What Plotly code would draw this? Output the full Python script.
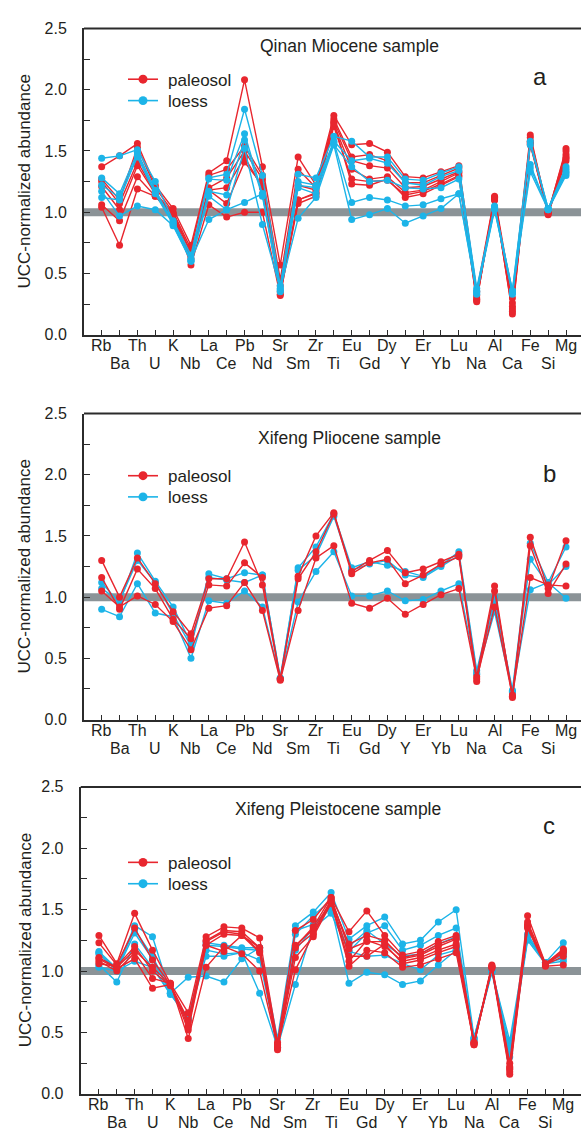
import plotly.graph_objects as go

# Element order along the x axis (UCC-normalized spider diagram)
ELEMENTS = ["Rb", "Ba", "Th", "U", "K", "Nb", "La", "Ce", "Pb", "Nd", "Sr", "Sm", "Zr", "Ti",
            "Eu", "Gd", "Dy", "Y", "Er", "Yb", "Lu", "Na", "Al", "Ca", "Fe", "Si", "Mg"]

Y_TICKS = [0, 0.25, 0.5, 0.75, 1.0, 1.25, 1.5, 1.75, 2.0, 2.25, 2.5]
Y_TICK_TEXT = ["0.0", "", "0.5", "", "1.0", "", "1.5", "", "2.0", "", "2.5"]

# ---- Qinan Miocene ----
QINAN_PALEOSOL = [
    [1.37, 1.46, 1.56, 1.22, 1.03, 0.73, 1.32, 1.42, 2.08, 1.37, 0.57, 1.45, 1.22, 1.79, 1.55, 1.56, 1.49, 1.29, 1.28, 1.33, 1.38, 0.35, 1.13, 0.30, 1.63, 0.99, 1.52],
    [1.27, 1.10, 1.53, 1.20, 1.00, 0.70, 1.30, 1.35, 1.54, 1.30, 0.45, 1.35, 1.20, 1.76, 1.45, 1.47, 1.42, 1.24, 1.24, 1.30, 1.36, 0.32, 1.12, 0.26, 1.61, 1.00, 1.50],
    [1.25, 1.07, 1.41, 1.16, 0.99, 0.67, 1.20, 1.28, 1.50, 1.27, 0.40, 1.22, 1.18, 1.74, 1.42, 1.38, 1.36, 1.20, 1.21, 1.27, 1.33, 0.30, 1.11, 0.23, 1.58, 1.00, 1.47],
    [1.21, 1.02, 1.38, 1.15, 0.98, 0.66, 1.18, 1.20, 1.45, 1.20, 0.35, 1.10, 1.15, 1.72, 1.35, 1.27, 1.29, 1.16, 1.18, 1.25, 1.32, 0.29, 1.10, 0.21, 1.56, 1.00, 1.45],
    [1.06, 0.93, 1.29, 1.13, 0.97, 0.62, 1.18, 1.07, 1.41, 1.22, 0.33, 1.07, 1.13, 1.70, 1.27, 1.25, 1.26, 1.14, 1.17, 1.23, 1.30, 0.28, 1.10, 0.19, 1.55, 0.99, 1.42],
    [1.04, 0.73, 1.19, 1.13, 0.98, 0.57, 1.06, 0.96, 1.00, 1.00, 0.32, 1.10, 1.16, 1.73, 1.23, 1.22, 1.27, 1.12, 1.15, 1.22, 1.29, 0.27, 1.12, 0.17, 1.57, 0.98, 1.44],
]
QINAN_LOESS = [
    [1.44, 1.46, 1.51, 1.25, 0.93, 0.65, 1.28, 1.31, 1.84, 1.30, 0.40, 1.31, 1.28, 1.62, 1.58, 1.45, 1.45, 1.27, 1.26, 1.32, 1.37, 0.38, 1.05, 0.36, 1.58, 1.03, 1.37],
    [1.28, 1.15, 1.49, 1.18, 0.92, 0.62, 1.27, 1.26, 1.64, 1.15, 0.38, 1.25, 1.22, 1.58, 1.42, 1.44, 1.40, 1.24, 1.22, 1.29, 1.34, 0.36, 1.04, 0.35, 1.55, 1.03, 1.35],
    [1.22, 1.12, 1.45, 1.15, 0.90, 0.60, 1.17, 1.14, 1.59, 1.13, 0.36, 1.22, 1.20, 1.55, 1.37, 1.25, 1.26, 1.20, 1.19, 1.20, 1.27, 0.34, 1.03, 0.33, 1.39, 1.02, 1.32],
    [1.17, 0.97, 1.05, 1.02, 0.89, 0.60, 1.13, 1.02, 1.08, 1.15, 0.35, 1.20, 1.15, 1.57, 1.08, 1.12, 1.10, 1.05, 1.06, 1.11, 1.15, 0.33, 1.02, 0.34, 1.33, 1.02, 1.30],
    [1.12, 1.10, 1.47, 1.16, 0.91, 0.61, 0.94, 1.02, 1.52, 0.90, 0.37, 0.95, 1.12, 1.55, 0.94, 0.98, 1.03, 0.91, 0.97, 1.03, 1.15, 0.35, 1.04, 0.36, 1.36, 1.03, 1.33],
]

# ---- Xifeng Pliocene ----
PLIOCENE_PALEOSOL = [
    [1.30, 1.00, 1.32, 1.11, 0.88, 0.70, 1.15, 1.15, 1.45, 1.10, 0.33, 1.17, 1.50, 1.69, 1.21, 1.30, 1.38, 1.20, 1.23, 1.29, 1.35, 0.35, 1.09, 0.18, 1.49, 1.07, 1.46],
    [1.16, 0.90, 1.23, 1.07, 0.82, 0.66, 1.10, 1.09, 1.28, 1.16, 0.33, 1.15, 1.37, 1.68, 1.19, 1.28, 1.31, 1.11, 1.18, 1.27, 1.33, 0.31, 1.05, 0.20, 1.42, 1.03, 1.27],
    [1.05, 0.92, 1.01, 0.94, 0.80, 0.57, 0.91, 0.93, 1.12, 0.89, 0.32, 0.89, 1.32, 1.42, 0.95, 0.91, 0.99, 0.86, 0.94, 1.02, 1.07, 0.33, 0.92, 0.19, 1.16, 1.10, 1.09],
]
PLIOCENE_LOESS = [
    [1.12, 0.95, 1.36, 1.13, 0.92, 0.62, 1.19, 1.15, 1.20, 1.18, 0.34, 1.24, 1.41, 1.68, 1.24, 1.29, 1.26, 1.21, 1.17, 1.26, 1.37, 0.40, 1.00, 0.24, 1.44, 1.12, 1.41],
    [1.07, 0.97, 1.30, 1.12, 0.86, 0.60, 1.16, 1.14, 1.12, 1.18, 0.34, 1.22, 1.34, 1.66, 1.22, 1.27, 1.30, 1.18, 1.16, 1.25, 1.34, 0.38, 0.95, 0.23, 1.31, 1.10, 1.25],
    [0.90, 0.84, 1.11, 0.87, 0.84, 0.50, 0.97, 0.95, 1.05, 0.92, 0.33, 0.96, 1.21, 1.37, 1.01, 1.01, 1.05, 0.97, 0.98, 1.05, 1.11, 0.37, 0.88, 0.22, 1.06, 1.12, 0.99],
]

# ---- Xifeng Pleistocene ----
PLEISTOCENE_PALEOSOL = [
    [1.29, 1.06, 1.47, 1.17, 0.90, 0.66, 1.28, 1.36, 1.35, 1.27, 0.42, 1.33, 1.42, 1.60, 1.32, 1.49, 1.29, 1.13, 1.16, 1.24, 1.29, 0.42, 1.05, 0.25, 1.45, 1.06, 1.18],
    [1.23, 1.05, 1.35, 1.09, 0.89, 0.60, 1.25, 1.33, 1.32, 1.19, 0.40, 1.21, 1.34, 1.57, 1.22, 1.29, 1.25, 1.10, 1.13, 1.20, 1.26, 0.41, 1.04, 0.21, 1.38, 1.05, 1.16],
    [1.11, 1.03, 1.17, 1.03, 0.89, 0.52, 1.21, 1.30, 1.29, 1.15, 0.38, 1.11, 1.28, 1.55, 1.08, 1.25, 1.20, 1.08, 1.11, 1.17, 1.22, 0.40, 1.03, 0.18, 1.36, 1.05, 1.15],
    [1.08, 1.00, 1.15, 0.94, 0.90, 0.45, 1.03, 1.20, 1.14, 1.00, 0.38, 1.01, 1.30, 1.56, 1.04, 1.17, 1.15, 1.03, 1.05, 1.10, 1.15, 0.41, 1.02, 0.16, 1.35, 1.04, 1.05],
    [1.10, 1.02, 1.10, 0.86, 0.89, 0.55, 1.21, 1.16, 1.29, 1.19, 0.36, 1.19, 1.31, 1.58, 1.12, 1.12, 1.22, 1.06, 1.09, 1.15, 1.20, 0.42, 1.03, 0.20, 1.37, 1.05, 1.12],
    [1.06, 1.04, 1.20, 1.00, 0.88, 0.58, 1.24, 1.32, 1.30, 1.16, 0.40, 1.20, 1.36, 1.60, 1.18, 1.24, 1.24, 1.11, 1.14, 1.22, 1.27, 0.40, 1.04, 0.22, 1.40, 1.06, 1.17],
]
PLEISTOCENE_LOESS = [
    [1.16, 1.02, 1.37, 1.28, 0.82, 0.62, 1.23, 1.21, 1.19, 1.19, 0.45, 1.37, 1.48, 1.64, 1.26, 1.37, 1.44, 1.22, 1.25, 1.40, 1.50, 0.46, 1.00, 0.43, 1.30, 1.07, 1.23],
    [1.14, 1.00, 1.31, 1.10, 0.82, 0.60, 1.17, 1.14, 1.15, 1.09, 0.40, 1.33, 1.38, 1.52, 1.16, 1.31, 1.37, 1.17, 1.21, 1.29, 1.35, 0.44, 1.00, 0.35, 1.27, 1.07, 1.13],
    [1.05, 0.91, 1.22, 1.03, 0.82, 0.95, 0.96, 0.91, 1.10, 1.19, 0.37, 1.17, 1.35, 1.47, 1.16, 1.12, 1.13, 1.06, 1.01, 1.13, 1.17, 0.43, 0.99, 0.30, 1.25, 1.06, 1.08],
    [1.03, 1.00, 1.08, 1.03, 0.81, 0.62, 1.12, 1.12, 1.15, 0.82, 0.38, 0.89, 1.36, 1.52, 0.90, 0.99, 0.97, 0.89, 0.92, 1.05, 1.17, 0.45, 1.00, 0.33, 1.28, 1.07, 1.10],
    [1.15, 1.01, 1.34, 1.12, 0.83, 0.61, 1.21, 1.20, 1.18, 1.17, 0.39, 1.30, 1.45, 1.58, 1.20, 1.33, 1.22, 1.12, 1.14, 1.22, 1.28, 0.45, 1.01, 0.38, 1.27, 1.07, 1.15],
]

RED = "#e8262e"
BLUE = "#1cb4e8"
AXIS = "#2b2b2b"
TEXT = "#231f20"
BAND = "#8b9397"
FONT = "Liberation Sans, Arial, sans-serif"

W, H = 581, 1138

panels = [
    dict(title="Qinan Miocene sample", tag="a", paleosol=QINAN_PALEOSOL, loess=QINAN_LOESS,
         top=20.7, bottom=331.7, left=84.0, xr=[-0.99, 26.84], red_first=True,
         title_xy=(349, 39), tag_xy=(540, 70), legend_rows=(72.3, 94.0)),
    dict(title="Xifeng Pliocene sample", tag="b", paleosol=PLIOCENE_PALEOSOL, loess=PLIOCENE_LOESS,
         top=411.7, bottom=722.3, left=84.0, xr=[-0.99, 26.84], red_first=False,
         title_xy=(349, 437), tag_xy=(549, 473), legend_rows=(474.8, 496.3)),
    dict(title="Xifeng Pleistocene sample", tag="c", paleosol=PLEISTOCENE_PALEOSOL, loess=PLEISTOCENE_LOESS,
         top=790.7, bottom=1102.3, left=80.7, xr=[-1.02, 26.99], red_first=False,
         title_xy=(338, 813), tag_xy=(549, 830), legend_rows=(867.3, 889.0)),
]

# legend key geometry (pixels)
KEY_X0, KEY_X1, KEY_TEXT_X, KEY_R = 128, 158, 166, 4.5


def px(x):
    return x / W


def py(y):
    return 1 - y / H


fig = go.Figure()
annotations = []
shapes = []
layout_axes = {}

for i, p in enumerate(panels):
    n = "" if i == 0 else str(i + 1)
    xa, ya = "x" + n, "y" + n

    groups = [("paleosol", p["paleosol"], RED), ("loess", p["loess"], BLUE)]
    trace_groups = groups if p["red_first"] else groups[::-1]
    for name, series, color in trace_groups:
        for vals in series:
            fig.add_trace(go.Scatter(
                x=ELEMENTS, y=vals, xaxis=xa, yaxis=ya, mode="lines+markers",
                name=name, showlegend=False,
                line=dict(color=color, width=1.4),
                marker=dict(color=color, size=7),
                cliponaxis=False,
            ))

    layout_axes["xaxis" + n] = dict(
        domain=[p["left"] / W, 1], anchor=ya, type="category", range=p["xr"],
        showticklabels=False, ticks="inside", ticklen=5, tickwidth=1.3, tickcolor=AXIS,
        showline=True, linewidth=2, linecolor=AXIS, showgrid=False, zeroline=False,
    )
    layout_axes["yaxis" + n] = dict(
        domain=[py(p["bottom"]), py(p["top"])], anchor=xa, range=[0, 2.5],
        tickmode="array", tickvals=Y_TICKS, ticktext=Y_TICK_TEXT,
        ticks="inside", ticklen=6, tickwidth=1.3, tickcolor=AXIS,
        ticklabelstandoff=12,
        tickfont=dict(family=FONT, size=16, color=TEXT),
        showline=True, linewidth=2, linecolor=AXIS, showgrid=False, zeroline=False,
    )

    # UCC reference band at 1.0
    shapes.append(dict(type="line", xref=xa + " domain", x0=0, x1=1, yref=ya, y0=1, y1=1,
                       line=dict(color=BAND, width=8), layer="below"))
    # top frame line
    shapes.append(dict(type="line", xref=xa + " domain", x0=0, x1=1, yref=ya + " domain", y0=1, y1=1,
                       line=dict(color=AXIS, width=2)))

    # legend keys
    for (label, color), row in zip((("paleosol", RED), ("loess", BLUE)), p["legend_rows"]):
        shapes.append(dict(type="line", xref="paper", yref="paper",
                           x0=px(KEY_X0), x1=px(KEY_X1), y0=py(row), y1=py(row),
                           line=dict(color=color, width=1.6)))
        cx = (KEY_X0 + KEY_X1) / 2
        shapes.append(dict(type="circle", xref="paper", yref="paper",
                           x0=px(cx - KEY_R), x1=px(cx + KEY_R),
                           y0=py(row + KEY_R), y1=py(row - KEY_R),
                           fillcolor=color, line=dict(color=color, width=0)))
        annotations.append(dict(
            x=px(KEY_TEXT_X), y=py(row), xref="paper", yref="paper", text=label,
            showarrow=False, xanchor="left", yanchor="middle", yshift=-1,
            font=dict(family=FONT, size=17, color=TEXT),
        ))

    # element labels in two staggered rows
    for j, el in enumerate(ELEMENTS):
        annotations.append(dict(
            x=el, y=0, xref=xa, yref=ya, text=el, showarrow=False,
            xanchor="center", yanchor="middle", yshift=-11 if j % 2 == 0 else -29,
            font=dict(family=FONT, size=16, color=TEXT),
        ))

    # y-axis title
    annotations.append(dict(
        x=px(25), y=py((p["top"] + p["bottom"]) / 2), xref="paper", yref="paper",
        text="UCC-normalized abundance", textangle=-90, showarrow=False,
        xanchor="center", yanchor="middle", font=dict(family=FONT, size=17, color=TEXT),
    ))
    # panel title and tag
    annotations.append(dict(
        x=px(p["title_xy"][0]), y=py(p["title_xy"][1]), xref="paper", yref="paper",
        text=p["title"], showarrow=False, xanchor="center", yanchor="middle",
        font=dict(family=FONT, size=17.5, color=TEXT),
    ))
    annotations.append(dict(
        x=px(p["tag_xy"][0]), y=py(p["tag_xy"][1]), xref="paper", yref="paper",
        text=p["tag"], showarrow=False, xanchor="center", yanchor="middle",
        font=dict(family=FONT, size=24, color=TEXT),
    ))

fig.update_layout(
    width=W, height=H, margin=dict(l=0, r=0, t=0, b=0),
    paper_bgcolor="white", plot_bgcolor="white",
    showlegend=False,
    annotations=annotations, shapes=shapes,
    **layout_axes,
)

fig.write_html("out.html")
